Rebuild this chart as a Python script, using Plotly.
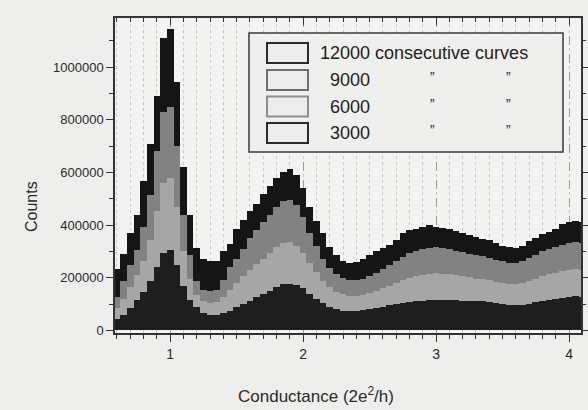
import plotly.graph_objects as go

# Bin centres (conductance, units of 2e^2/h), bin width 0.05
conductance = [0.60, 0.65, 0.70, 0.75, 0.80, 0.85, 0.90, 0.95, 1.00, 1.05,
               1.10, 1.15, 1.20, 1.25, 1.30, 1.35, 1.40, 1.45, 1.50, 1.55,
               1.60, 1.65, 1.70, 1.75, 1.80, 1.85, 1.90, 1.95, 2.00, 2.05,
               2.10, 2.15, 2.20, 2.25, 2.30, 2.35, 2.40, 2.45, 2.50, 2.55,
               2.60, 2.65, 2.70, 2.75, 2.80, 2.85, 2.90, 2.95, 3.00, 3.05,
               3.10, 3.15, 3.20, 3.25, 3.30, 3.35, 3.40, 3.45, 3.50, 3.55,
               3.60, 3.65, 3.70, 3.75, 3.80, 3.85, 3.90, 3.95, 4.00, 4.05,
               4.10]

counts_12000 = [235000, 290000, 370000, 440000, 566000, 710000, 890000, 1110000, 1145000, 945000,
                620000, 440000, 313000, 270000, 262000, 265000, 300000, 330000, 385000, 420000,
                455000, 480000, 520000, 550000, 580000, 600000, 615000, 590000, 540000, 470000,
                415000, 370000, 315000, 285000, 262000, 255000, 258000, 270000, 285000, 300000,
                312000, 325000, 345000, 370000, 382000, 385000, 392000, 400000, 392000, 388000,
                385000, 378000, 370000, 362000, 355000, 348000, 342000, 332000, 322000, 316000,
                314000, 322000, 340000, 352000, 365000, 375000, 385000, 405000, 412000, 415000,
                410000]

counts_9000 = [125000, 186000, 250000, 305000, 393000, 515000, 680000, 830000, 850000, 700000,
               440000, 285000, 186000, 155000, 148000, 152000, 190000, 240000, 272000, 310000,
               350000, 380000, 410000, 440000, 470000, 490000, 495000, 475000, 430000, 370000,
               320000, 270000, 238000, 215000, 200000, 193000, 192000, 196000, 205000, 218000,
               232000, 248000, 262000, 280000, 294000, 303000, 310000, 314000, 315000, 312000,
               308000, 302000, 296000, 290000, 285000, 281000, 276000, 268000, 262000, 257000,
               256000, 262000, 275000, 288000, 300000, 310000, 318000, 326000, 332000, 334000,
               332000]

counts_6000 = [85000, 120000, 165000, 210000, 265000, 345000, 455000, 560000, 578000, 470000,
               300000, 195000, 135000, 112000, 105000, 106000, 125000, 155000, 180000, 205000,
               230000, 252000, 272000, 295000, 318000, 332000, 336000, 322000, 295000, 255000,
               220000, 188000, 163000, 147000, 137000, 132000, 132000, 136000, 142000, 150000,
               160000, 170000, 180000, 192000, 200000, 207000, 212000, 216000, 218000, 216000,
               213000, 209000, 205000, 201000, 197000, 194000, 190000, 185000, 180000, 176000,
               175000, 179000, 188000, 197000, 205000, 213000, 219000, 225000, 230000, 232000,
               230000]

counts_3000 = [45000, 60000, 85000, 115000, 145000, 186000, 240000, 295000, 306000, 250000,
               170000, 115000, 88000, 65000, 58000, 58000, 65000, 75000, 88000, 100000,
               112000, 125000, 138000, 150000, 165000, 175000, 178000, 172000, 160000, 140000,
               120000, 105000, 90000, 80000, 74000, 72000, 72000, 76000, 80000, 85000,
               90000, 95000, 100000, 103000, 106000, 110000, 113000, 115000, 116000, 116000,
               115000, 114000, 113000, 112000, 111000, 110000, 108000, 104000, 100000, 97000,
               96000, 98000, 102000, 106000, 110000, 115000, 120000, 124000, 127000, 129000,
               128000]

series_names = ["12000 consecutive curves", "9000", "6000", "3000"]
series_values = [counts_12000, counts_9000, counts_6000, counts_3000]
fill_colors = ["#151515", "#828282", "#a6a6a6", "#1e1e1e"]
swatch_borders = ["#2a2a2a", "#6e6e6e", "#8e8e8e", "#2a2a2a"]

y_ticks = [0, 200000, 400000, 600000, 800000, 1000000]
x_ticks = [1, 2, 3, 4]

BIN_W = 0.05
X_RANGE = [0.585, 4.09]
Y_RANGE = [-10000, 1187000]

fig = go.Figure()
for name, vals, col in zip(series_names, series_values, fill_colors):
    fig.add_trace(go.Bar(x=conductance, y=vals, width=BIN_W, name=name,
                         marker=dict(color=col, line=dict(width=0)),
                         showlegend=False))

# trace carrying the top/right mirrored axes (uses the same data)
fig.add_trace(go.Scatter(x=conductance, y=counts_12000, xaxis="x2", yaxis="y2",
                         mode="lines", line=dict(width=0), opacity=0,
                         showlegend=False, hoverinfo="skip"))

axis_col = "#333333"
font_family = "Liberation Sans, Arial, sans-serif"

fig.update_layout(
    width=588, height=410,
    margin=dict(l=115, r=7, t=18, b=77, autoexpand=False),
    paper_bgcolor="#eeeeec",
    plot_bgcolor="#f3f3f1",
    barmode="overlay",
    bargap=0,
    font=dict(family=font_family, color="#2a2a2a"),
    xaxis=dict(range=X_RANGE, tickmode="array", tickvals=x_ticks,
               ticktext=[str(v) for v in x_ticks], automargin=False,
               ticks="outside", ticklen=7, tickwidth=1.3, tickcolor=axis_col,
               showline=True, linecolor=axis_col, linewidth=1.5, mirror=True,
               showgrid=True, gridcolor="#9a9a9a", griddash="dash", gridwidth=1,
               zeroline=False, tickfont=dict(size=14),
               minor=dict(dtick=0.1, tick0=0, ticks="outside", ticklen=4,
                          tickcolor=axis_col, showgrid=True,
                          gridcolor="#c8c8c8", griddash="dot", gridwidth=1)),
    yaxis=dict(range=Y_RANGE, tickmode="array", tickvals=y_ticks,
               ticktext=[str(v) for v in y_ticks], automargin=False,
               ticks="outside", ticklen=7, tickwidth=1.3, tickcolor=axis_col,
               showline=True, linecolor=axis_col, linewidth=1.5, mirror=True,
               showgrid=False, zeroline=False, tickfont=dict(size=13),
               minor=dict(dtick=100000, tick0=0, ticks="outside", ticklen=4,
                          tickcolor=axis_col, showgrid=False)),
    xaxis2=dict(range=X_RANGE, overlaying="x", side="top", anchor="y2",
                tickmode="array", tickvals=x_ticks, showticklabels=False,
                automargin=False,
                ticks="inside", ticklen=7, tickwidth=1.3, tickcolor=axis_col,
                showgrid=False, zeroline=False, showline=False,
                minor=dict(dtick=0.1, tick0=0, ticks="inside", ticklen=4,
                           tickcolor=axis_col, showgrid=False)),
    yaxis2=dict(range=Y_RANGE, overlaying="y", side="right", anchor="x2",
                tickmode="array", tickvals=y_ticks, showticklabels=False,
                automargin=False,
                ticks="outside", ticklen=6, tickwidth=1.3, tickcolor=axis_col,
                showgrid=False, zeroline=False, showline=False,
                minor=dict(dtick=100000, tick0=0, ticks="outside", ticklen=4,
                           tickcolor=axis_col, showgrid=False)),
)

# Axis titles
fig.add_annotation(text="Conductance (2e<sup>2</sup>/h)", xref="paper", yref="paper",
                   x=(316 - 115) / 466, y=-(395 - 333) / 315, showarrow=False,
                   font=dict(size=17), xanchor="center", yanchor="middle")
fig.add_annotation(text="Counts", xref="paper", yref="paper",
                   x=-(115 - 31) / 466, y=(333 - 207) / 315, showarrow=False,
                   textangle=-90, font=dict(size=16), xanchor="center", yanchor="middle")

# Legend drawn manually (paper coordinates from pixel positions)
def px_x(x):
    return (x - 115) / 466.0

def px_y(y):
    return (333 - y) / 315.0

fig.add_shape(type="rect", xref="paper", yref="paper",
              x0=px_x(249), x1=px_x(563), y0=px_y(152), y1=px_y(33),
              fillcolor="#efefed", line=dict(color="#3a3a3a", width=1.5), layer="above")

row_y = [53, 80, 106.5, 133]
for i, (name, bcol) in enumerate(zip(series_names, swatch_borders)):
    yc = row_y[i]
    fig.add_shape(type="rect", xref="paper", yref="paper",
                  x0=px_x(267), x1=px_x(308), y0=px_y(yc + 10), y1=px_y(yc - 10),
                  fillcolor="#ececea", line=dict(color=bcol, width=2), layer="above")
    fig.add_annotation(text=name, xref="paper", yref="paper",
                       x=px_x(318 if i == 0 else 328), y=px_y(yc), showarrow=False,
                       xanchor="left", yanchor="middle", font=dict(size=18, color="#222222"))
    if i > 0:
        for dx in (432, 508):
            fig.add_annotation(text="\u201d", xref="paper", yref="paper",
                               x=px_x(dx), y=px_y(yc - 3), showarrow=False,
                               xanchor="center", yanchor="middle",
                               font=dict(size=14, color="#333333"))

fig.write_html("out.html",
               config={"displayModeBar": False},
               post_script="document.body.style.margin='0';"
                           "document.body.style.overflow='hidden';")
